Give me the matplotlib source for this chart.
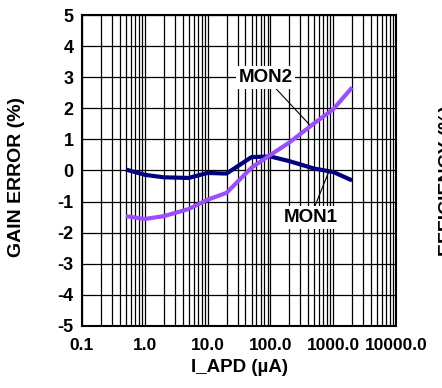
import numpy as np
import matplotlib
matplotlib.use('Agg')
import matplotlib.pyplot as plt
from matplotlib.ticker import LogLocator, NullFormatter

plt.rcParams['font.family'] = ['Liberation Sans', 'DejaVu Sans']
plt.rcParams['font.weight'] = 'bold'
plt.rcParams['axes.unicode_minus'] = False

# APD current sweep and gain error of the two monitor outputs
i_apd = [0.5, 1, 2, 5, 10, 20, 50, 100, 200, 500, 1000, 2000]
mon1 = [0.03, -0.14, -0.22, -0.24, -0.08, -0.10, 0.43, 0.45, 0.30, 0.06, -0.05, -0.32]
mon2 = [-1.47, -1.56, -1.47, -1.24, -0.94, -0.72, 0.09, 0.50, 0.90, 1.52, 1.97, 2.67]

x_ticks = [0.1, 1, 10, 100, 1000, 10000]
x_ticklabels = ['0.1', '1.0', '10.0', '100.0', '1000.0', '10000.0']
y_ticks = [5, 4, 3, 2, 1, 0, -1, -2, -3, -4, -5]

fig = plt.figure(figsize=(4.42, 3.88), dpi=100)
ax = fig.add_axes([0.1855, 0.160, 0.7105, 0.8013])

ax.plot(i_apd, mon1, color='#000080', lw=3, solid_capstyle='butt', zorder=3)
ax.plot(i_apd, mon2, color='#9B4DFF', lw=3, solid_capstyle='butt', zorder=3)

ax.set_xscale('log')
ax.set_xlim(0.1, 10000)
ax.set_ylim(-5, 5)
ax.set_xticks(x_ticks)
ax.set_xticklabels(x_ticklabels)
ax.xaxis.set_minor_locator(LogLocator(base=10, subs=np.arange(2, 10)))
ax.xaxis.set_minor_formatter(NullFormatter())
ax.set_yticks(y_ticks)

ax.grid(True, which='major', color='black', lw=0.9)
ax.grid(True, which='minor', axis='x', color='black', lw=0.9)
ax.set_axisbelow(True)
ax.tick_params(which='both', length=0)
ax.tick_params(axis='x', pad=9, labelsize=12.5)
ax.tick_params(axis='y', pad=6, labelsize=13)
for sp in ax.spines.values():
    sp.set_linewidth(1.5)

ax.set_xlabel('I_APD (µA)', fontsize=13.5, fontweight='bold', labelpad=4)
ax.set_ylabel('GAIN ERROR (%)', fontsize=14, fontweight='bold')
ax.yaxis.set_label_coords(-0.18, 0.479)

box = dict(boxstyle='square,pad=0.15', fc='white', ec='none')
arrow = dict(arrowstyle='-', color='black', lw=0.8, shrinkA=0, shrinkB=0)
ax.annotate('MON2', xy=(416, 1.48), xytext=(83, 3.0), fontsize=13.5, fontweight='bold',
            ha='center', va='center', bbox=box, arrowprops=arrow, zorder=4)
ax.annotate('MON1', xy=(865, 0.0), xytext=(431, -1.52), fontsize=13.5, fontweight='bold',
            ha='center', va='center', bbox=box, arrowprops=arrow, zorder=4)

# neighbouring panel's axis title, cut off at the right edge
fig.text(447 / 442, 1 - 180 / 388, 'EFFICIENCY (%)', rotation=90, fontsize=14,
         fontweight='bold', ha='center', va='center')

fig.savefig('out.png', dpi=100)
